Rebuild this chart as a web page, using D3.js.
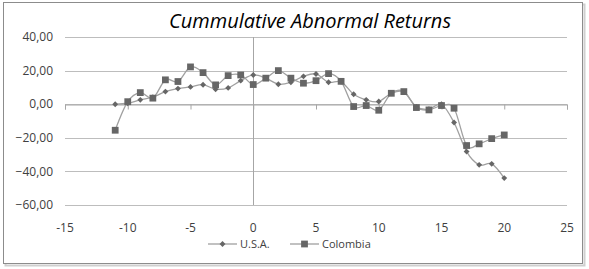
<!DOCTYPE html>
<html>
<head>
<meta charset="utf-8">
<script src="https://cdn.jsdelivr.net/npm/d3@7"></script>
<style>
  body { margin: 0; background: #fff; }
  svg { display: block; font-family: "Open Sans", "Noto Sans", sans-serif; }
</style>
</head>
<body>
<div id="wrapper"></div>
<script>
// days relative to event
const days = [-11, -10, -9, -8, -7, -6, -5, -4, -3, -2, -1, 0, 1, 2, 3, 4, 5, 6, 7, 8, 9, 10, 11, 12, 13, 14, 15, 16, 17, 18, 19, 20];
const usa = [0, 0.6, 2.6, 4.2, 7.5, 9.3, 10.3, 11.6, 8.9, 9.7, 14, 17.4, 15.5, 11.9, 13.1, 16.6, 18, 13.1, 13.3, 5.9, 2.6, 1.6, 6.5, 7.3, -1.6, -3, 0, -10.9, -28.2, -36.1, -35.5, -44];
const colombia = [-15.5, 1.5, 6.9, 3.6, 14.5, 13.5, 22.2, 18.8, 11.5, 17, 17.4, 11.7, 15.5, 20, 15.5, 12.5, 14, 18.2, 13.6, -1.4, -0.8, -3.6, 6.5, 7.5, -2, -3.4, -0.8, -2.4, -24.6, -23.6, -20.5, -18.3];
const xTicks = [-15, -10, -5, 0, 5, 10, 15, 20, 25];
const yTicks = [40, 20, 0, -20, -40, -60];
const title = "Cummulative Abnormal Returns";
const seriesNames = ["U.S.A.", "Colombia"];

const width = 589, height = 269;

const svg = d3.select("#wrapper").append("svg")
  .attr("width", width)
  .attr("height", height);

// chart frame (with a soft shadow)
svg.append("rect")
  .attr("x", 5.5).attr("y", 4.5)
  .attr("width", 579).attr("height", 261)
  .attr("fill", "none")
  .attr("stroke", "#cfcfcf")
  .attr("stroke-width", 2);
svg.append("rect")
  .attr("x", 3.5).attr("y", 2.5)
  .attr("width", 579).attr("height", 261)
  .attr("fill", "#fff")
  .attr("stroke", "#8c8c8c");

const xScale = d3.scaleLinear().domain([-15, 25]).range([65, 567]);
const yScale = d3.scaleLinear().domain([-60, 40]).range([205, 37]);

// gridlines
svg.append("g")
  .selectAll("line")
  .data(yTicks)
  .join("line")
  .attr("x1", xScale(-15)).attr("x2", xScale(25))
  .attr("y1", d => Math.round(yScale(d)) + 0.5)
  .attr("y2", d => Math.round(yScale(d)) + 0.5)
  .attr("stroke", "#bdbdbd");

// y labels
svg.append("g")
  .selectAll("text")
  .data(yTicks)
  .join("text")
  .attr("x", 53)
  .attr("y", d => yScale(d))
  .attr("dy", "0.35em")
  .attr("text-anchor", "end")
  .attr("font-size", 12)
  .attr("fill", "#404040")
  .text(d => d3.format(".2f")(d).replace(".", ","));

// x axis line at zero with ticks
const xAxisG = svg.append("g")
  .attr("transform", `translate(0, ${Math.round(yScale(0)) + 0.5})`)
  .call(d3.axisBottom(xScale).tickValues(xTicks).tickSize(5).tickFormat(""));
xAxisG.select(".domain").attr("stroke", "#a6a6a6");
xAxisG.selectAll(".tick line").attr("stroke", "#a6a6a6");

// vertical axis at x = 0
svg.append("line")
  .attr("x1", Math.round(xScale(0)) + 0.5).attr("x2", Math.round(xScale(0)) + 0.5)
  .attr("y1", yScale(40)).attr("y2", yScale(-60))
  .attr("stroke", "#a6a6a6");

// x labels at bottom
svg.append("g")
  .selectAll("text")
  .data(xTicks)
  .join("text")
  .attr("x", d => xScale(d))
  .attr("y", 228)
  .attr("dy", "0.35em")
  .attr("text-anchor", "middle")
  .attr("font-size", 12)
  .attr("fill", "#404040")
  .text(d => d);

// title
svg.append("text")
  .attr("x", 310).attr("y", 28)
  .attr("text-anchor", "middle")
  .attr("font-size", 20)
  .attr("font-style", "italic")
  .attr("fill", "#000")
  .text(title);

const line = d3.line()
  .x((d, i) => xScale(days[i]))
  .y(d => yScale(d))
  .curve(d3.curveCardinal.tension(0));

const lineColor = "#a0a0a0";
const markColor = "#666666";

svg.append("path")
  .attr("d", line(usa))
  .attr("fill", "none")
  .attr("stroke", lineColor)
  .attr("stroke-width", 1.3);
svg.append("path")
  .attr("d", line(colombia))
  .attr("fill", "none")
  .attr("stroke", lineColor)
  .attr("stroke-width", 1.3);

const diamond = d3.symbol().type(d3.symbolDiamond2).size(22);
const square = d3.symbol().type(d3.symbolSquare).size(46);

svg.append("g")
  .selectAll("path")
  .data(usa)
  .join("path")
  .attr("transform", (d, i) => `translate(${xScale(days[i])}, ${yScale(d)})`)
  .attr("d", diamond)
  .attr("fill", markColor);

svg.append("g")
  .selectAll("path")
  .data(colombia)
  .join("path")
  .attr("transform", (d, i) => `translate(${xScale(days[i])}, ${yScale(d)})`)
  .attr("d", square)
  .attr("fill", markColor);

// legend
const legend = [
  { name: seriesNames[0], x: 208, symbol: diamond },
  { name: seriesNames[1], x: 290, symbol: square }
];
const lg = svg.append("g").selectAll("g")
  .data(legend)
  .join("g")
  .attr("transform", d => `translate(${d.x}, 244)`);
lg.append("line")
  .attr("x1", 0).attr("x2", 29)
  .attr("stroke", lineColor)
  .attr("stroke-width", 1.3);
lg.append("path")
  .attr("transform", "translate(14.5, 0)")
  .attr("d", d => d.symbol())
  .attr("fill", markColor);
lg.append("text")
  .attr("x", 32)
  .attr("dy", "0.35em")
  .attr("font-size", 11)
  .attr("fill", "#404040")
  .text(d => d.name);
</script>
</body>
</html>
